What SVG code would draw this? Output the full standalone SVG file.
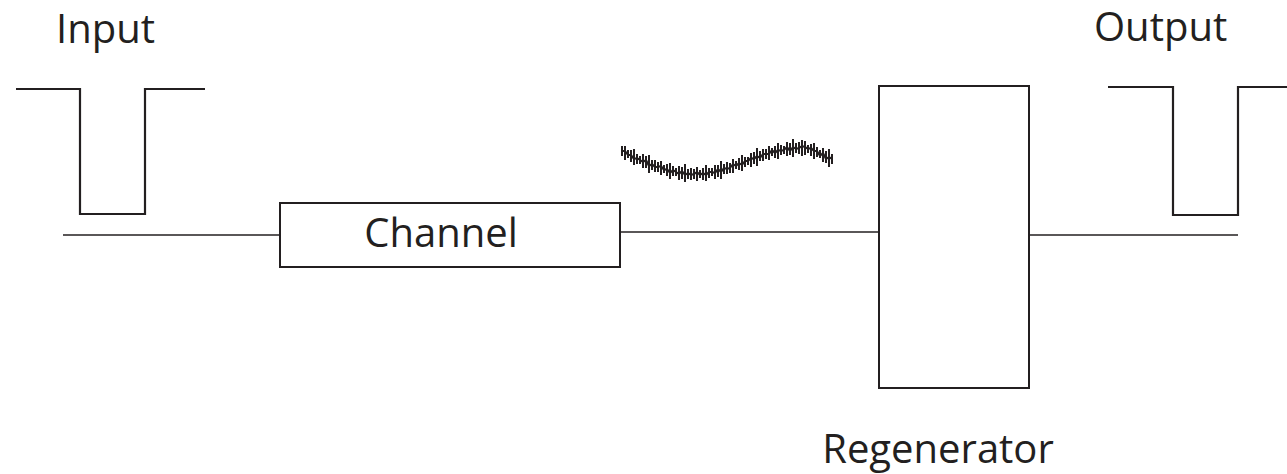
<svg xmlns="http://www.w3.org/2000/svg" width="1287" height="474" viewBox="0 0 1287 474">
<style>
.lbl{font-family:"Open Sans","Noto Sans","Liberation Sans",sans-serif;font-size:40px;fill:#231f20}
.box{fill:none;stroke:#231f20;stroke-width:2}
.wave{fill:none;stroke:#231f20;stroke-width:2.2}
.wire{fill:none;stroke:#231f20;stroke-width:1.6}
.noise{fill:none;stroke:#231f20;stroke-width:2}
</style>
<rect width="1287" height="474" fill="#fff"/>
<g id="input">
<text class="lbl" x="56" y="43">Input</text>
<polyline class="wave" points="16,89 80,89 80,214 145,214 145,89 205,89"/>
</g>
<g id="channel">
<rect class="box" x="280" y="203" width="340" height="64"/>
<text class="lbl" x="441" y="247" text-anchor="middle">Channel</text>
</g>
<g id="noisy-signal">
<polyline class="noise" points="622,151 625,151 628,155 631,155 634,159 637,158 640,160 643,162 646,160 649,166 652,164 655,167 658,167 661,166 664,170 667,169 670,173 673,170 676,172 679,174 682,171 685,175 688,173 691,175 694,174 697,172 700,175 703,173 706,175 709,172 712,172 715,173 718,169 721,172 724,168 727,169 730,168 733,164 736,166 739,163 742,165 745,161 748,161 751,158 754,159 757,156 760,158 763,154 766,154 769,154 772,150 775,153 778,150 781,151 784,150 787,147 790,151 793,147 796,149 799,148 802,146 805,147 808,149 811,148 814,151 817,151 820,156 823,153 826,159 829,157 832,159"/>
<path class="noise" d="M622 146V156M625 146V160M628 150V158M631 150V162M634 149V165M637 154V164M640 156V164M643 154V168M646 156V168M649 155V173M652 160V170M655 160V172M658 162V172M661 161V175M664 165V173M667 164V176M670 163V179M673 166V176M676 168V176M679 166V180M682 167V179M685 164V182M688 169V179M691 168V180M694 169V179M697 167V181M700 170V178M703 168V180M706 165V181M709 168V178M712 168V176M715 165V179M718 165V177M721 161V179M724 164V174M727 162V174M730 163V173M733 159V173M736 161V169M739 158V170M742 155V171M745 157V167M748 157V165M751 153V167M754 152V164M757 148V166M760 151V161M763 149V161M766 149V159M769 146V160M772 148V156M775 146V158M778 143V159M781 145V155M784 146V154M787 142V156M790 143V155M793 139V157M796 143V153M799 142V154M802 140V156M805 141V155M808 145V153M811 144V156M814 143V159M817 147V157M820 150V158M823 148V162M826 151V163M829 149V167M832 154V164"/>
</g>
<g id="regenerator">
<rect class="box" x="879" y="86" width="150" height="302"/>
<text class="lbl" x="938" y="463" text-anchor="middle">Regenerator</text>
</g>
<g id="output">
<text class="lbl" x="1094" y="41" font-size="39">Output</text>
<polyline class="wave" points="1108,87 1173,87 1173,215 1238,215 1238,87 1287,87"/>
</g>
<g id="connectors">
<line class="wire" x1="63" y1="235" x2="280" y2="235"/>
<line class="wire" x1="620" y1="232" x2="879" y2="232" stroke-width="2"/>
<line class="wire" x1="1029" y1="235" x2="1238" y2="235"/>
</g>
</svg>
